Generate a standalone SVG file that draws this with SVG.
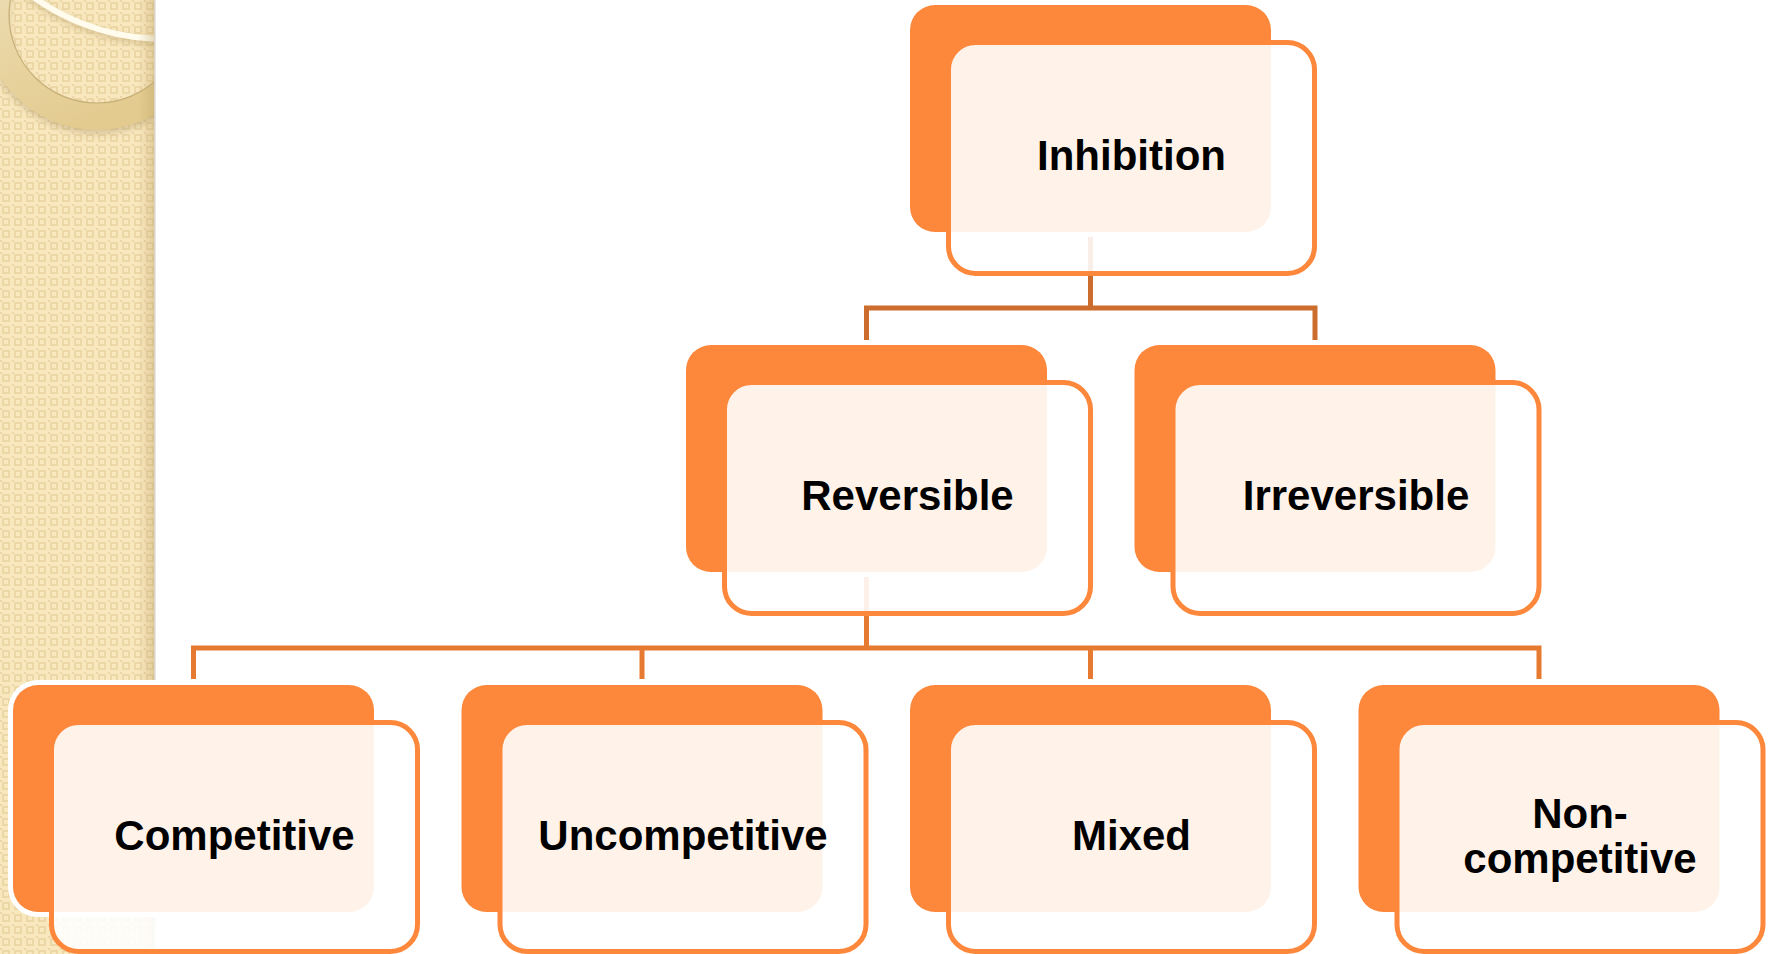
<svg xmlns="http://www.w3.org/2000/svg" width="1774" height="954" viewBox="0 0 1774 954">
  <defs>
    <style>
      .back{fill:#FD873B;stroke:#FFFFFF;stroke-width:10;paint-order:stroke}
      .front{fill:#FFFFFF;fill-opacity:0.89;stroke:#FD873B;stroke-width:5}
      .lbl{font-family:"Liberation Sans",Arial,sans-serif;font-weight:bold;font-size:42px;fill:#000;text-anchor:middle}
      .conTop{fill:none;stroke:#CC6C2D;stroke-width:5}
      .conBot{fill:none;stroke:#E77A31;stroke-width:5}
    </style>
    <pattern id="weave" width="12" height="12" patternUnits="userSpaceOnUse">
      <rect width="12" height="12" fill="#F9E7BE"/>
      <rect x="3" y="3" width="6" height="6" fill="none" stroke="#E9D4A2" stroke-width="1.6"/>
      <rect x="0" y="0" width="2" height="2" fill="#EAD6A6"/>
    </pattern>
    <linearGradient id="ringG" x1="0" y1="0" x2="0.4" y2="1">
      <stop offset="0" stop-color="#F2E5C3"/>
      <stop offset="1" stop-color="#E3CB8F"/>
    </linearGradient>
    <linearGradient id="edgeG" x1="0" y1="0" x2="1" y2="0">
      <stop offset="0" stop-color="#B89C5E" stop-opacity="0"/>
      <stop offset="1" stop-color="#B89C5E" stop-opacity="0.35"/>
    </linearGradient>
    <clipPath id="panelClip"><rect x="0" y="0" width="154" height="954"/></clipPath>
    <filter id="blur3" x="-20%" y="-20%" width="140%" height="140%"><feGaussianBlur stdDeviation="3"/></filter>
  </defs>

  <rect x="0" y="0" width="1774" height="954" fill="#FFFFFF"/>

  <g id="side-panel">
    <rect x="0" y="0" width="154" height="954" fill="url(#weave)"/>
    <g clip-path="url(#panelClip)">
      <path d="M-18 15a115 115 0 1 0 230 0a115 115 0 1 0 -230 0Z M9 15a88 88 0 1 0 176 0a88 88 0 1 0 -176 0Z" fill="#9C8452" fill-opacity="0.35" fill-rule="evenodd" filter="url(#blur3)" transform="translate(0,4)"/>
      <path d="M-18 15a115 115 0 1 0 230 0a115 115 0 1 0 -230 0Z M9 15a88 88 0 1 0 176 0a88 88 0 1 0 -176 0Z" fill="url(#ringG)" fill-rule="evenodd"/>
      <circle cx="97" cy="15" r="88" fill="none" stroke="#C7AF78" stroke-width="1.2"/>
      <circle cx="164" cy="-182" r="224" fill="none" stroke="#BFA874" stroke-width="6" stroke-opacity="0.6" filter="url(#blur3)"/>
      <circle cx="164" cy="-185" r="224" fill="none" stroke="#FFFCEE" stroke-width="6"/>
      <rect x="138" y="0" width="16" height="954" fill="url(#edgeG)"/>
    </g>
    <line x1="154.8" y1="0" x2="154.8" y2="954" stroke="#DAD5CA" stroke-width="1.6"/>
  </g>

  <g id="connectors">
    <path class="conTop" d="M1090.5 236V308M866.5 340V308H1315V340"/>
    <path class="conBot" d="M866.5 575V648M193.5 679V648H1539V679M642 648V679M1090.5 648V679"/>
  </g>

  <g id="node-inhibition">
    <rect class="back" x="910" y="5" width="361" height="227" rx="25"/>
    <rect class="front" x="948.5" y="42.5" width="366" height="231" rx="27"/>
    <text class="lbl" x="1131.5" y="170">Inhibition</text>
  </g>

  <g id="node-reversible">
    <rect class="back" x="686" y="345" width="361" height="227" rx="25"/>
    <rect class="front" x="724.5" y="382.5" width="366" height="231" rx="27"/>
    <text class="lbl" x="907.5" y="510">Reversible</text>
  </g>

  <g id="node-irreversible">
    <rect class="back" x="1134.5" y="345" width="361" height="227" rx="25"/>
    <rect class="front" x="1173" y="382.5" width="366" height="231" rx="27"/>
    <text class="lbl" x="1356" y="510">Irreversible</text>
  </g>

  <g id="node-competitive">
    <rect class="back" x="13" y="685" width="361" height="227" rx="25"/>
    <rect class="front" x="51.5" y="722.5" width="366" height="229" rx="27"/>
    <text class="lbl" x="234.5" y="850">Competitive</text>
  </g>

  <g id="node-uncompetitive">
    <rect class="back" x="461.5" y="685" width="361" height="227" rx="25"/>
    <rect class="front" x="500" y="722.5" width="366" height="229" rx="27"/>
    <text class="lbl" x="683" y="850">Uncompetitive</text>
  </g>

  <g id="node-mixed">
    <rect class="back" x="910" y="685" width="361" height="227" rx="25"/>
    <rect class="front" x="948.5" y="722.5" width="366" height="229" rx="27"/>
    <text class="lbl" x="1131.5" y="850">Mixed</text>
  </g>

  <g id="node-noncompetitive">
    <rect class="back" x="1358.5" y="685" width="361" height="227" rx="25"/>
    <rect class="front" x="1397" y="722.5" width="366" height="229" rx="27"/>
    <text class="lbl" x="1580" y="828">Non-</text>
    <text class="lbl" x="1580" y="873">competitive</text>
  </g>
</svg>
